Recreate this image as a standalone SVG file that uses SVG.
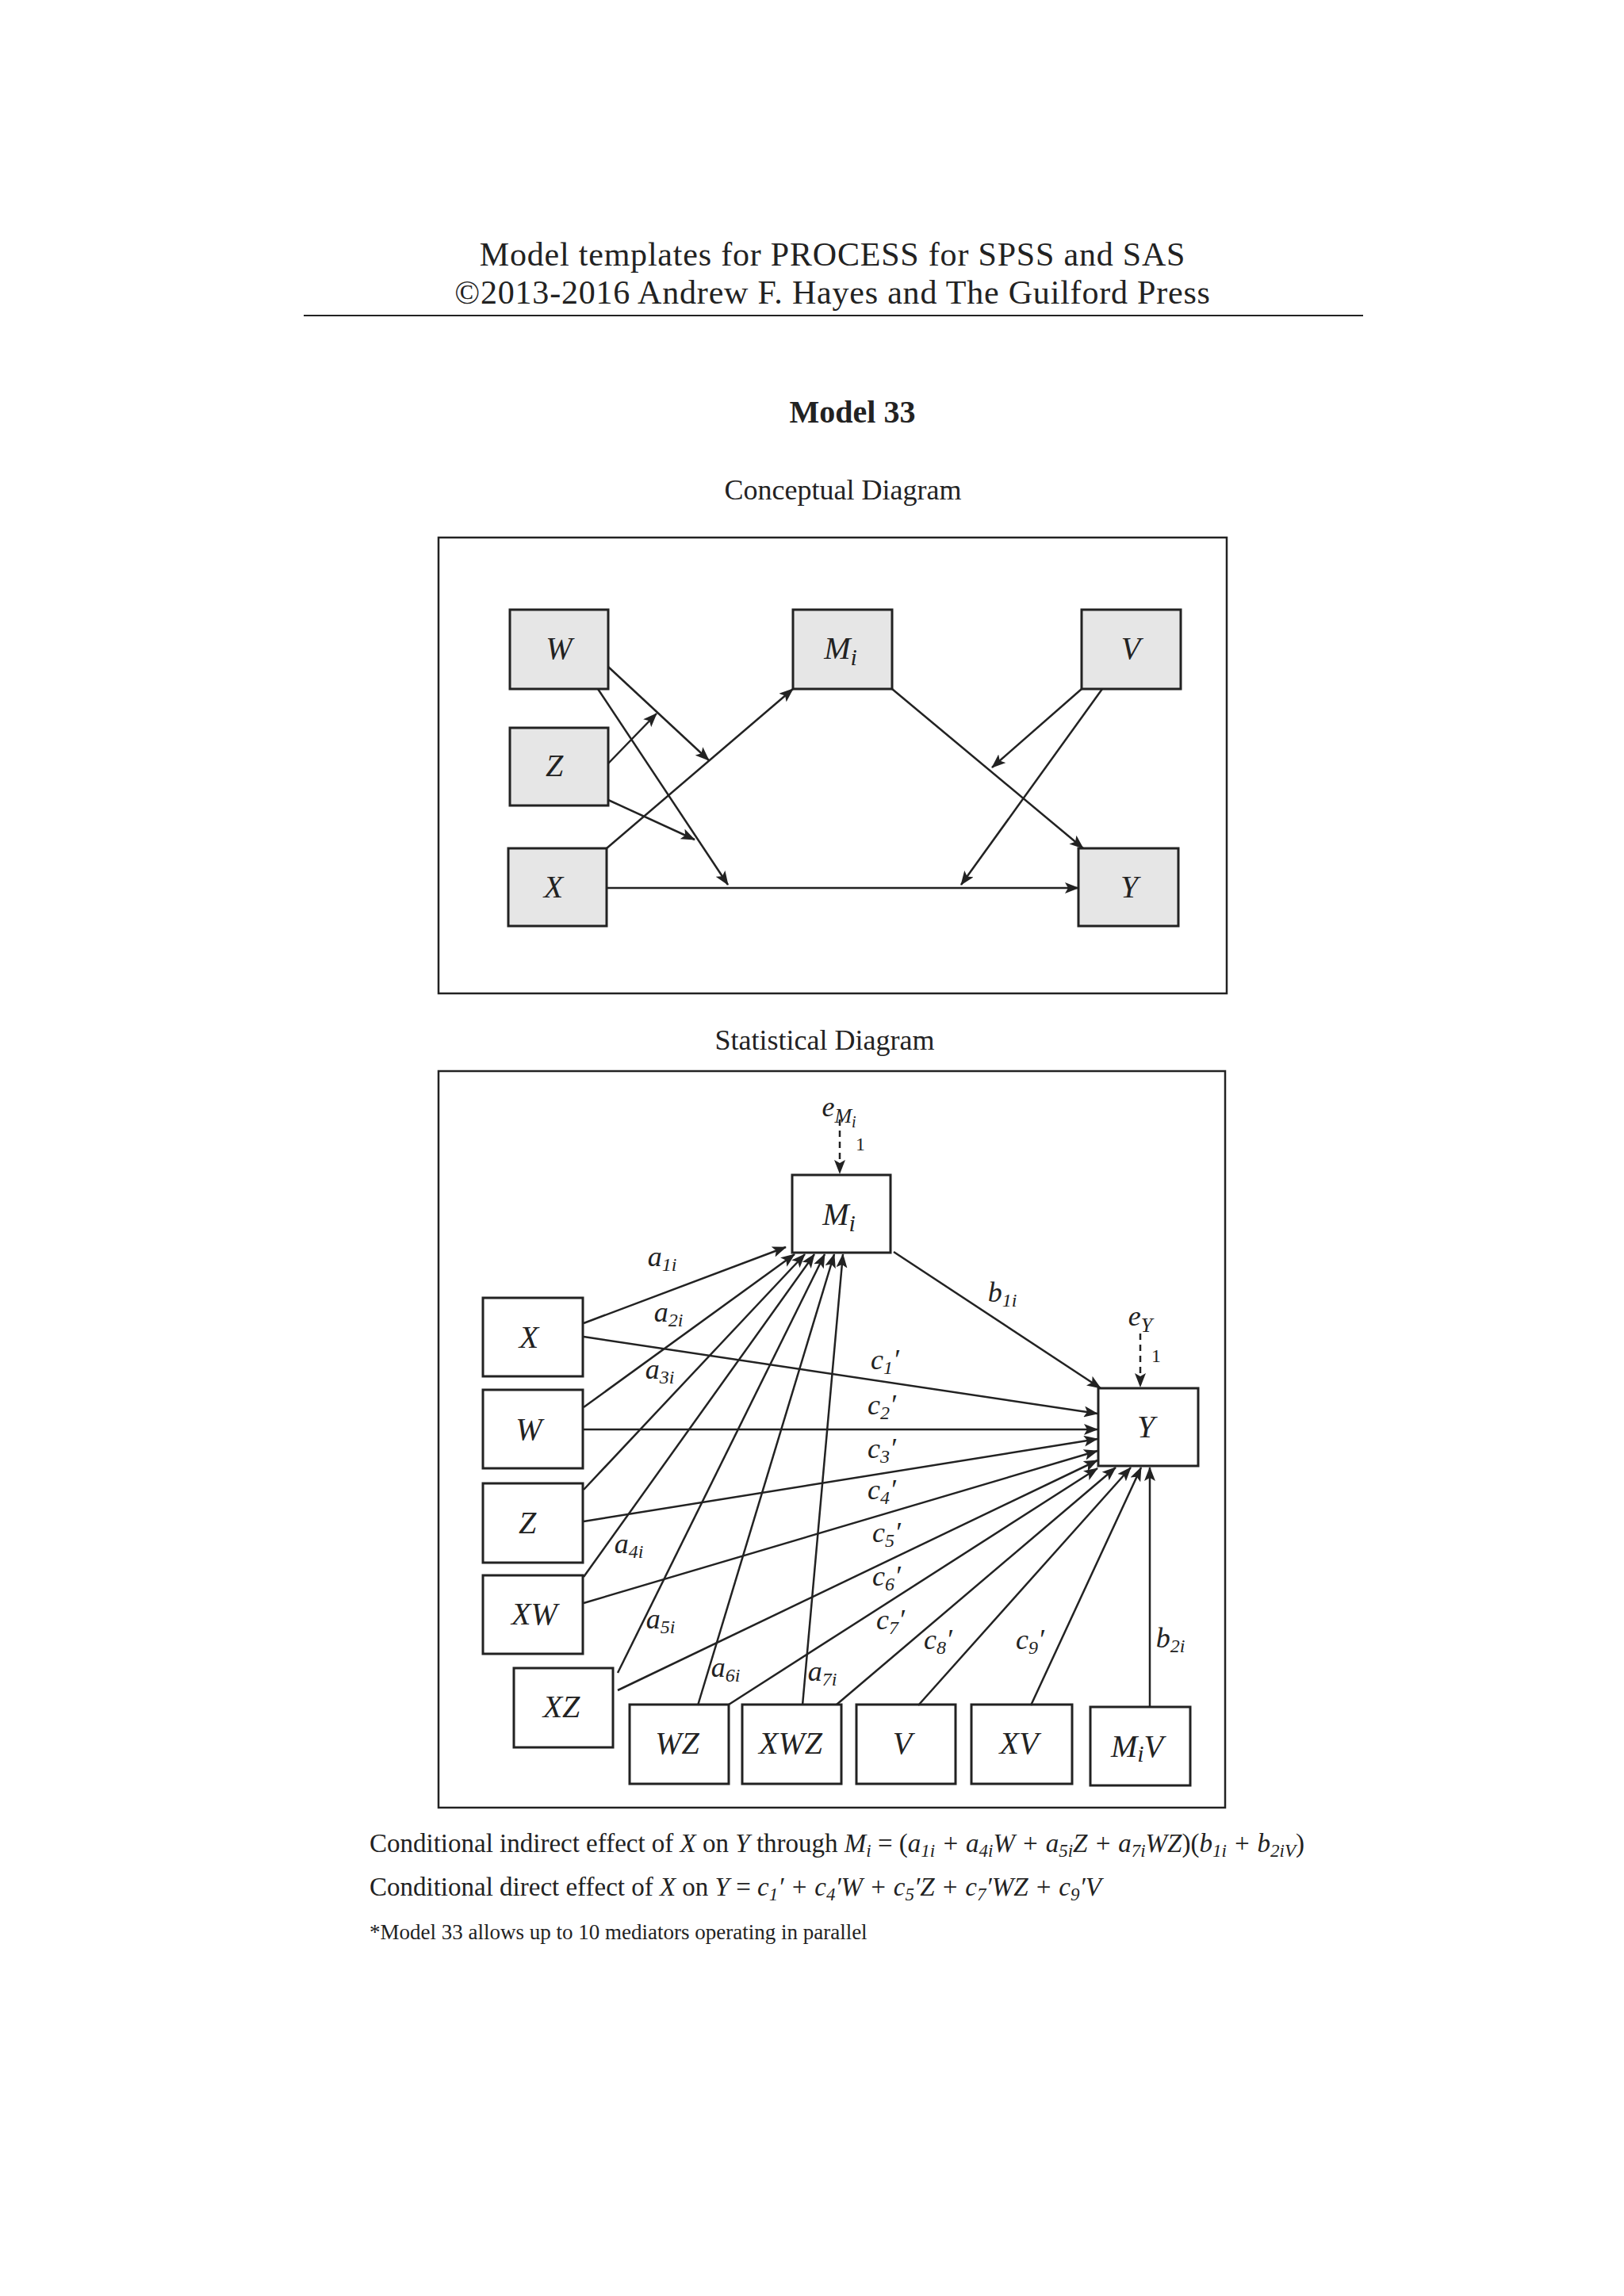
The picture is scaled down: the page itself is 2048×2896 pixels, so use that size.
<svg xmlns="http://www.w3.org/2000/svg" width="2048" height="2896" viewBox="0 0 2048 2896">
<style>
.t{font-family:"Liberation Serif",serif;fill:#222}
.v{font-family:"Liberation Serif",serif;font-style:italic;font-size:40px;fill:#222;text-anchor:middle}
.l{font-family:"Liberation Serif",serif;font-style:italic;font-size:36px;fill:#222;text-anchor:middle}
.c rect{fill:#e6e6e6;stroke:#222;stroke-width:3}
.s rect{fill:#fff;stroke:#222;stroke-width:3}
.e line{stroke:#222;stroke-width:2.5;marker-end:url(#b)}
.d{stroke:#222;stroke-width:2.5;stroke-dasharray:8,6;marker-end:url(#b)}
</style>
<defs>
<marker id="b" markerWidth="18" markerHeight="14" refX="17" refY="7" orient="auto" markerUnits="userSpaceOnUse" viewBox="0 0 18 14"><path d="M0,0 L18,7 L0,14 L4,7z" fill="#222"/></marker></defs>
<rect width="2048" height="2896" fill="#fff"/>
<text class="t" x="1050" y="335" font-size="42" letter-spacing="0.8" text-anchor="middle">Model templates for PROCESS for SPSS and SAS</text>
<text class="t" x="1050" y="383" font-size="42" letter-spacing="0.8" text-anchor="middle">©2013-2016 Andrew F. Hayes and The Guilford Press</text>
<line x1="383" y1="398" x2="1719" y2="398" stroke="#222" stroke-width="2"/>
<text class="t" x="1075" y="533" font-size="40" font-weight="bold" text-anchor="middle">Model 33</text>
<text class="t" x="1063" y="630" font-size="36" text-anchor="middle">Conceptual Diagram</text>
<rect x="553" y="678" width="994" height="575" fill="none" stroke="#222" stroke-width="2.5"/>
<g class="c">
<g id="cW"><rect x="643" y="769" width="124" height="100"/><text class="v" x="705" y="831">W</text></g>
<g id="cM"><rect x="1000" y="769" width="125" height="100"/><text class="v" x="1060" y="831">M<tspan font-size="30" dy="8">i</tspan></text></g>
<g id="cV"><rect x="1364" y="769" width="125" height="100"/><text class="v" x="1426" y="831">V</text></g>
<g id="cZ"><rect x="643" y="918" width="124" height="98"/><text class="v" x="699" y="979">Z</text></g>
<g id="cX"><rect x="641" y="1070" width="124" height="98"/><text class="v" x="698" y="1132">X</text></g>
<g id="cY"><rect x="1360" y="1070" width="126" height="98"/><text class="v" x="1424" y="1132">Y</text></g>
</g>
<g class="e" id="cedges">
<line x1="767" y1="841" x2="894" y2="959"/>
<line x1="754" y1="869" x2="918" y2="1116"/>
<line x1="767" y1="963" x2="828" y2="900"/>
<line x1="767" y1="1009" x2="876" y2="1059"/>
<line x1="765" y1="1070" x2="1000" y2="869"/>
<line x1="765" y1="1120" x2="1360" y2="1120"/>
<line x1="1125" y1="869" x2="1366" y2="1070"/>
<line x1="1364" y1="869" x2="1251" y2="968"/>
<line x1="1390" y1="869" x2="1212" y2="1116"/>
</g>
<text class="t" x="1040" y="1324" font-size="36" text-anchor="middle">Statistical Diagram</text>
<rect x="553" y="1351" width="992" height="929" fill="none" stroke="#222" stroke-width="2.5"/>
<g class="s">
<g id="sM"><rect x="999" y="1482" width="124" height="98"/><text class="v" x="1058" y="1545">M<tspan font-size="30" dy="8">i</tspan></text></g>
<g id="sX"><rect x="609" y="1637" width="126" height="99"/><text class="v" x="667" y="1700">X</text></g>
<g id="sW"><rect x="609" y="1753" width="126" height="99"/><text class="v" x="667" y="1816">W</text></g>
<g id="sZ"><rect x="609" y="1871" width="126" height="100"/><text class="v" x="665" y="1934">Z</text></g>
<g id="sXW"><rect x="609" y="1987" width="126" height="99"/><text class="v" x="674" y="2049">XW</text></g>
<g id="sXZ"><rect x="648" y="2104" width="125" height="100"/><text class="v" x="708" y="2166">XZ</text></g>
<g id="sWZ"><rect x="794" y="2150" width="125" height="100"/><text class="v" x="854" y="2212">WZ</text></g>
<g id="sXWZ"><rect x="936" y="2150" width="125" height="100"/><text class="v" x="997" y="2212">XWZ</text></g>
<g id="sV"><rect x="1080" y="2150" width="125" height="100"/><text class="v" x="1138" y="2212">V</text></g>
<g id="sXV"><rect x="1225" y="2150" width="127" height="100"/><text class="v" x="1285" y="2212">XV</text></g>
<g id="sMV"><rect x="1375" y="2153" width="126" height="99"/><text class="v" x="1434" y="2216">M<tspan font-size="30" dy="6">i</tspan><tspan dy="-6">V</tspan></text></g>
<g id="sY"><rect x="1385" y="1751" width="126" height="98"/><text class="v" x="1445" y="1813">Y</text></g>
</g>
<g id="sedges">
<line class="d" x1="1059" y1="1412" x2="1059" y2="1480"/>
<line class="d" x1="1438" y1="1682" x2="1438" y2="1749"/>
<g class="e">
<line x1="736" y1="1669" x2="991" y2="1573"/>
<line x1="736" y1="1775" x2="1002" y2="1582"/>
<line x1="736" y1="1879" x2="1015" y2="1582"/>
<line x1="736" y1="1989" x2="1027" y2="1582"/>
<line x1="779" y1="2110" x2="1040" y2="1582"/>
<line x1="880" y1="2151" x2="1052" y2="1582"/>
<line x1="1012" y1="2151" x2="1063" y2="1582"/>
<line x1="1127" y1="1579" x2="1388" y2="1751"/>
<line x1="736" y1="1686" x2="1384" y2="1783"/>
<line x1="736" y1="1803" x2="1384" y2="1803"/>
<line x1="736" y1="1919" x2="1384" y2="1815"/>
<line x1="736" y1="2022" x2="1384" y2="1830"/>
<line x1="779" y1="2132" x2="1384" y2="1842"/>
<line x1="919" y1="2150" x2="1384" y2="1852"/>
<line x1="1055" y1="2150" x2="1407" y2="1851"/>
<line x1="1158" y1="2151" x2="1426" y2="1851"/>
<line x1="1300" y1="2151" x2="1439" y2="1851"/>
<line x1="1450" y1="2153" x2="1450" y2="1851"/>
</g>
</g>
<g id="labels">
<text class="l" x="1058" y="1408" font-size="42">e<tspan font-size="26" dy="8">M</tspan><tspan font-size="20" dy="6">i</tspan></text>
<text class="t" x="1079" y="1451" font-size="24">1</text>
<text class="l" x="1438" y="1672" font-size="40">e<tspan font-size="26" dy="8">Y</tspan></text>
<text class="t" x="1452" y="1718" font-size="24">1</text>
<text class="l" x="835" y="1597">a<tspan font-size="24" dy="6">1i</tspan></text>
<text class="l" x="843" y="1667">a<tspan font-size="24" dy="6">2i</tspan></text>
<text class="l" x="832" y="1739">a<tspan font-size="24" dy="6">3i</tspan></text>
<text class="l" x="793" y="1959">a<tspan font-size="24" dy="6">4i</tspan></text>
<text class="l" x="833" y="2054">a<tspan font-size="24" dy="6">5i</tspan></text>
<text class="l" x="915" y="2115">a<tspan font-size="24" dy="6">6i</tspan></text>
<text class="l" x="1037" y="2120">a<tspan font-size="24" dy="6">7i</tspan></text>
<text class="l" x="1264" y="1642">b<tspan font-size="24" dy="6">1i</tspan></text>
<text class="l" x="1476" y="2078">b<tspan font-size="24" dy="6">2i</tspan></text>
<text class="l" x="1116" y="1727">c<tspan font-size="24" dy="6">1</tspan><tspan dy="-6">′</tspan></text>
<text class="l" x="1112" y="1784">c<tspan font-size="24" dy="6">2</tspan><tspan dy="-6">′</tspan></text>
<text class="l" x="1112" y="1839">c<tspan font-size="24" dy="6">3</tspan><tspan dy="-6">′</tspan></text>
<text class="l" x="1112" y="1891">c<tspan font-size="24" dy="6">4</tspan><tspan dy="-6">′</tspan></text>
<text class="l" x="1118" y="1945">c<tspan font-size="24" dy="6">5</tspan><tspan dy="-6">′</tspan></text>
<text class="l" x="1118" y="2000">c<tspan font-size="24" dy="6">6</tspan><tspan dy="-6">′</tspan></text>
<text class="l" x="1123" y="2055">c<tspan font-size="24" dy="6">7</tspan><tspan dy="-6">′</tspan></text>
<text class="l" x="1183" y="2080">c<tspan font-size="24" dy="6">8</tspan><tspan dy="-6">′</tspan></text>
<text class="l" x="1299" y="2080">c<tspan font-size="24" dy="6">9</tspan><tspan dy="-6">′</tspan></text>
</g>
<g id="formulas" class="t" font-size="33">
<text x="466" y="2336">Conditional indirect effect of <tspan font-style="italic">X</tspan> on <tspan font-style="italic">Y</tspan> through <tspan font-style="italic">M<tspan font-size="23" dy="6">i</tspan></tspan><tspan dy="-6"> = (</tspan><tspan font-style="italic">a<tspan font-size="23" dy="6">1i</tspan><tspan dy="-6"> + a</tspan><tspan font-size="23" dy="6">4i</tspan><tspan dy="-6">W + a</tspan><tspan font-size="23" dy="6">5i</tspan><tspan dy="-6">Z + a</tspan><tspan font-size="23" dy="6">7i</tspan><tspan dy="-6">WZ</tspan></tspan>)(<tspan font-style="italic">b<tspan font-size="23" dy="6">1i</tspan><tspan dy="-6"> + b</tspan><tspan font-size="23" dy="6">2iV</tspan></tspan><tspan dy="-6">)</tspan></text>
<text x="466" y="2391">Conditional direct effect of <tspan font-style="italic">X</tspan> on <tspan font-style="italic">Y</tspan> = <tspan font-style="italic">c<tspan font-size="23" dy="6">1</tspan><tspan dy="-6">′ + c</tspan><tspan font-size="23" dy="6">4</tspan><tspan dy="-6">′W + c</tspan><tspan font-size="23" dy="6">5</tspan><tspan dy="-6">′Z + c</tspan><tspan font-size="23" dy="6">7</tspan><tspan dy="-6">′WZ + c</tspan><tspan font-size="23" dy="6">9</tspan><tspan dy="-6">′V</tspan></tspan></text>
<text x="466" y="2446" font-size="27">*Model 33 allows up to 10 mediators operating in parallel</text>
</g>
</svg>
